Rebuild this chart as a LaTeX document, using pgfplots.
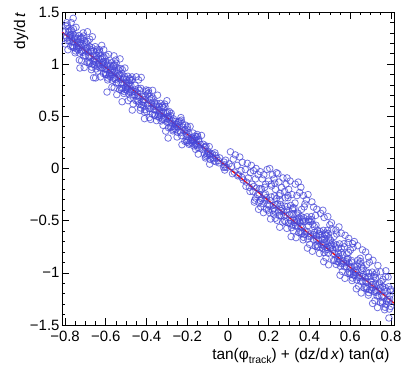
\documentclass[border=0pt]{standalone}
\usepackage{fontspec}
\setmainfont{Liberation Sans}
\usepackage{pgfplots}
\pgfplotsset{compat=1.18}
\definecolor{mk}{RGB}{70,70,215}
\definecolor{fitred}{RGB}{245,0,0}

\begin{document}
\begin{tikzpicture}
\path[use as bounding box] (-62bp,-61bp) rectangle (353bp,325bp);
\begin{axis}[
  name=ax, at={(0,0)}, anchor=south west,
  scale only axis, width=332bp, height=313bp,
  xmin=-0.815, xmax=0.815, ymin=-1.5, ymax=1.5,
  xtick={-0.8,-0.6,-0.4,-0.2,0,0.2,0.4,0.6,0.8},
  xticklabels={−0.8,−0.6,−0.4,−0.2,0,0.2,0.4,0.6,0.8},
  ytick={-1.5,-1,-0.5,0,0.5,1,1.5},
  yticklabels={−1.5,−1,−0.5,0,0.5,1,1.5},
  minor x tick num=3, minor y tick num=4,
  tick align=inside,
  major tick length=7bp, minor tick length=3.5bp,
  tick style={black, line width=0.6bp},
  axis line style={line width=0.8bp},
  ticklabel style={font=\fontsize{15}{17}\selectfont},
  xticklabel style={yshift=-3bp},
  yticklabel style={xshift=1bp},
]
% measured points
\addplot[only marks, mark=o, mark size=3.3bp, mark options={draw=mk, draw opacity=0.75, line width=0.8bp}] coordinates {
(-0.797,1.317) (-0.772,1.171) (-0.784,1.338) (-0.765,1.216) (-0.791,1.398) (-0.778,1.258) (-0.761,1.286) (-0.788,1.225)
(-0.768,1.325) (-0.799,1.194) (-0.775,1.274) (-0.794,1.270) (-0.763,1.177) (-0.782,1.306) (-0.770,1.399) (-0.786,1.138)
(-0.766,1.245) (-0.796,1.364) (-0.779,1.224) (-0.771,1.281) (-0.789,1.374) (-0.762,1.162) (-0.793,1.254) (-0.776,1.317)
(-0.757,1.210) (-0.732,1.274) (-0.744,1.147) (-0.725,1.207) (-0.751,1.109) (-0.738,1.207) (-0.721,1.123) (-0.748,1.272)
(-0.728,1.106) (-0.759,1.339) (-0.735,1.181) (-0.754,1.247) (-0.723,1.238) (-0.742,1.171) (-0.730,1.040) (-0.746,1.353)
(-0.726,1.180) (-0.756,1.159) (-0.739,1.243) (-0.731,1.160) (-0.749,1.127) (-0.722,1.251) (-0.753,1.259) (-0.736,1.140)
(-0.717,1.193) (-0.692,1.017) (-0.704,1.226) (-0.685,1.078) (-0.711,1.300) (-0.698,1.126) (-0.681,1.170) (-0.708,1.079)
(-0.688,1.217) (-0.719,1.034) (-0.695,1.148) (-0.714,1.134) (-0.683,1.029) (-0.702,1.186) (-0.690,1.311) (-0.706,0.968)
(-0.686,1.115) (-0.716,1.254) (-0.699,1.082) (-0.691,1.159) (-0.709,1.270) (-0.682,1.010) (-0.713,1.114) (-0.696,1.203)
(-0.677,1.074) (-0.652,1.168) (-0.664,0.999) (-0.645,1.085) (-0.671,0.947) (-0.658,1.079) (-0.641,0.979) (-0.668,1.158)
(-0.648,0.954) (-0.679,1.239) (-0.655,1.047) (-0.674,1.123) (-0.643,1.126) (-0.662,1.031) (-0.650,0.868) (-0.666,1.263)
(-0.646,1.050) (-0.676,1.009) (-0.659,1.125) (-0.651,1.022) (-0.669,0.971) (-0.642,1.143) (-0.673,1.139) (-0.656,0.994)
(-0.637,1.057) (-0.612,0.911) (-0.624,1.078) (-0.605,0.956) (-0.631,1.138) (-0.618,0.998) (-0.601,1.026) (-0.628,0.965)
(-0.608,1.065) (-0.639,0.934) (-0.615,1.014) (-0.634,1.010) (-0.603,0.917) (-0.622,1.046) (-0.610,1.139) (-0.626,0.878)
(-0.606,0.985) (-0.636,1.104) (-0.619,0.964) (-0.611,1.021) (-0.629,1.114) (-0.602,0.902) (-0.633,0.994) (-0.616,1.057)
(-0.597,0.950) (-0.572,1.014) (-0.584,0.887) (-0.565,0.947) (-0.591,0.849) (-0.578,0.947) (-0.561,0.863) (-0.588,1.012)
(-0.568,0.846) (-0.599,1.079) (-0.575,0.921) (-0.594,0.987) (-0.563,0.978) (-0.582,0.911) (-0.570,0.780) (-0.586,1.093)
(-0.566,0.920) (-0.596,0.899) (-0.579,0.983) (-0.571,0.900) (-0.589,0.867) (-0.562,0.991) (-0.593,0.999) (-0.576,0.880)
(-0.557,0.933) (-0.532,0.757) (-0.544,0.966) (-0.525,0.818) (-0.551,1.040) (-0.538,0.866) (-0.521,0.910) (-0.548,0.819)
(-0.528,0.957) (-0.559,0.774) (-0.535,0.888) (-0.554,0.874) (-0.523,0.769) (-0.542,0.926) (-0.530,1.051) (-0.546,0.708)
(-0.526,0.855) (-0.556,0.994) (-0.539,0.822) (-0.531,0.899) (-0.549,1.010) (-0.522,0.750) (-0.553,0.854) (-0.536,0.943)
(-0.517,0.820) (-0.492,0.884) (-0.504,0.757) (-0.485,0.817) (-0.511,0.719) (-0.498,0.817) (-0.481,0.733) (-0.508,0.882)
(-0.488,0.716) (-0.519,0.949) (-0.495,0.791) (-0.514,0.857) (-0.483,0.848) (-0.502,0.781) (-0.490,0.650) (-0.506,0.963)
(-0.486,0.790) (-0.516,0.769) (-0.499,0.853) (-0.491,0.770) (-0.509,0.737) (-0.482,0.861) (-0.513,0.869) (-0.496,0.750)
(-0.477,0.797) (-0.452,0.651) (-0.445,0.696) (-0.471,0.878) (-0.458,0.738) (-0.441,0.766) (-0.468,0.705) (-0.479,0.674)
(-0.455,0.754) (-0.474,0.750) (-0.443,0.657) (-0.450,0.879) (-0.466,0.618) (-0.446,0.725) (-0.476,0.844) (-0.459,0.704)
(-0.469,0.854) (-0.442,0.642) (-0.473,0.734) (-0.456,0.797)
(-0.437,0.684) (-0.424,0.609) (-0.405,0.695) (-0.431,0.557) (-0.418,0.689) (-0.428,0.768) (-0.408,0.564) (-0.439,0.849)
(-0.415,0.657) (-0.403,0.736) (-0.422,0.641) (-0.410,0.478) (-0.426,0.873) (-0.406,0.660) (-0.436,0.619) (-0.411,0.632)
(-0.429,0.581) (-0.402,0.753) (-0.433,0.749) (-0.416,0.604)
(-0.372,0.521) (-0.384,0.688) (-0.365,0.566) (-0.391,0.748) (-0.361,0.636) (-0.388,0.575) (-0.368,0.675) (-0.399,0.544)
(-0.375,0.624) (-0.394,0.620) (-0.382,0.656) (-0.370,0.749) (-0.386,0.488) (-0.366,0.595) (-0.396,0.714) (-0.379,0.574)
(-0.389,0.724) (-0.362,0.512) (-0.393,0.604) (-0.376,0.667)
(-0.357,0.560) (-0.332,0.624) (-0.344,0.497) (-0.351,0.459) (-0.338,0.557) (-0.321,0.473) (-0.348,0.622) (-0.328,0.456)
(-0.335,0.531) (-0.354,0.597) (-0.323,0.588) (-0.342,0.521) (-0.346,0.703) (-0.326,0.530) (-0.356,0.509) (-0.339,0.593)
(-0.331,0.510) (-0.322,0.601) (-0.353,0.609) (-0.336,0.490)
(-0.317,0.537) (-0.292,0.391) (-0.285,0.436) (-0.311,0.618) (-0.298,0.478) (-0.281,0.506) (-0.288,0.545) (-0.319,0.414)
(-0.295,0.494) (-0.314,0.490) (-0.283,0.397) (-0.302,0.526) (-0.306,0.358) (-0.286,0.465) (-0.316,0.584) (-0.299,0.444)
(-0.291,0.501) (-0.309,0.594) (-0.313,0.474) (-0.296,0.537)
(-0.277,0.436) (-0.264,0.385) (-0.245,0.419) (-0.271,0.361) (-0.258,0.425) (-0.268,0.476) (-0.248,0.347) (-0.279,0.529)
(-0.274,0.461) (-0.243,0.440) (-0.262,0.401) (-0.250,0.302) (-0.246,0.400) (-0.276,0.399) (-0.259,0.451) (-0.269,0.373)
(-0.242,0.449) (-0.256,0.375)
(-0.212,0.261) (-0.224,0.428) (-0.205,0.306) (-0.231,0.488) (-0.201,0.376) (-0.228,0.315) (-0.208,0.415) (-0.215,0.364)
(-0.234,0.360) (-0.203,0.267) (-0.222,0.396) (-0.226,0.228) (-0.206,0.335) (-0.236,0.454) (-0.211,0.371) (-0.229,0.464)
(-0.202,0.252) (-0.233,0.344)
(-0.197,0.306) (-0.172,0.340) (-0.165,0.289) (-0.191,0.231) (-0.178,0.295) (-0.161,0.227) (-0.168,0.217) (-0.199,0.399)
(-0.175,0.275) (-0.163,0.310) (-0.182,0.271) (-0.186,0.403) (-0.166,0.270) (-0.196,0.269) (-0.171,0.258) (-0.189,0.243)
(-0.193,0.339) (-0.176,0.245)
(-0.157,0.271) (-0.144,0.280) (-0.125,0.184) (-0.151,0.326) (-0.121,0.232) (-0.148,0.201) (-0.159,0.184) (-0.135,0.230)
(-0.154,0.236) (-0.142,0.256) (-0.130,0.317) (-0.146,0.138) (-0.156,0.304) (-0.139,0.196) (-0.149,0.308) (-0.153,0.224)
(-0.092,0.210) (-0.104,0.125) (-0.111,0.101) (-0.098,0.165) (-0.108,0.216) (-0.088,0.087) (-0.095,0.145) (-0.114,0.201)
(-0.102,0.141) (-0.090,0.042) (-0.086,0.140) (-0.116,0.139) (-0.091,0.128) (-0.109,0.113) (-0.113,0.209)
(-0.077,0.141) (-0.064,0.150) (-0.045,0.054) (-0.041,0.102) (-0.068,0.071) (-0.055,0.100) (-0.074,0.106) (-0.062,0.126)
(-0.046,0.075) (-0.059,0.066) (-0.073,0.094)
(-0.012,0.080) (-0.018,0.035) (-0.015,0.015) (-0.022,0.011) (-0.006,0.010) (-0.019,0.061) (-0.016,-0.015)
(0.005,0.045) (0.012,0.160) (0.018,0.020) (0.026,0.090) (0.031,-0.035) (0.036,0.130) (0.022,-0.050)
(0.045,0.030) (0.052,-0.060) (0.058,0.110) (0.064,-0.020) (0.070,0.060) (0.075,-0.110) (0.048,-0.070) (0.068,-0.085)
(0.085,-0.010) (0.090,-0.130) (0.095,0.050) (0.100,-0.090) (0.105,-0.180) (0.110,-0.040) (0.115,0.030) (0.118,-0.150)
(0.088,-0.170) (0.108,-0.220)
(0.123,-0.221) (0.136,-0.284) (0.129,-0.322) (0.159,-0.308) (0.152,-0.325) (0.145,-0.250) (0.157,-0.193) (0.150,-0.391)
(0.154,-0.251) (0.141,-0.188) (0.131,-0.304) (0.127,-0.172)
(0.125,-0.020) (0.138,0.000) (0.148,-0.060) (0.158,-0.030) (0.135,-0.100)
(0.188,-0.390) (0.195,-0.345) (0.182,-0.303) (0.172,-0.336) (0.161,-0.367) (0.166,-0.291) (0.178,-0.255) (0.174,-0.423)
(0.164,-0.197) (0.189,-0.280) (0.198,-0.399) (0.184,-0.244)
(0.168,-0.100) (0.176,-0.060) (0.185,-0.150) (0.192,-0.010) (0.199,-0.120) (0.180,-0.180)
(0.203,-0.357) (0.228,-0.263) (0.235,-0.346) (0.209,-0.484) (0.222,-0.352) (0.212,-0.273) (0.232,-0.477) (0.225,-0.384)
(0.206,-0.308) (0.218,-0.400) (0.214,-0.168) (0.204,-0.422) (0.229,-0.409) (0.238,-0.288) (0.224,-0.437)
(0.205,0.000) (0.212,-0.150) (0.226,-0.100) (0.233,-0.200) (0.218,-0.060) (0.238,-0.040) (0.230,-0.140)
(0.243,-0.338) (0.268,-0.514) (0.256,-0.305) (0.275,-0.453) (0.262,-0.405) (0.279,-0.361) (0.252,-0.452) (0.241,-0.497)
(0.265,-0.383) (0.277,-0.502) (0.258,-0.345) (0.254,-0.563) (0.274,-0.416) (0.261,-0.449) (0.251,-0.261) (0.247,-0.417)
(0.245,-0.050) (0.250,-0.130) (0.263,-0.180) (0.270,-0.090) (0.278,-0.220) (0.256,-0.240)
(0.283,-0.447) (0.308,-0.353) (0.296,-0.522) (0.315,-0.436) (0.289,-0.574) (0.302,-0.442) (0.319,-0.542) (0.292,-0.363)
(0.312,-0.567) (0.281,-0.282) (0.286,-0.398) (0.317,-0.395) (0.310,-0.653) (0.294,-0.258) (0.284,-0.512) (0.309,-0.499)
(0.318,-0.378) (0.304,-0.527)
(0.285,-0.150) (0.290,-0.090) (0.298,-0.200) (0.305,-0.120) (0.314,-0.250) (0.295,-0.280)
(0.323,-0.438) (0.348,-0.614) (0.355,-0.553) (0.329,-0.331) (0.342,-0.505) (0.359,-0.461) (0.332,-0.552) (0.321,-0.597)
(0.345,-0.483) (0.326,-0.497) (0.357,-0.602) (0.338,-0.445) (0.334,-0.663) (0.354,-0.516) (0.324,-0.377) (0.341,-0.549)
(0.349,-0.472) (0.358,-0.621) (0.327,-0.517) (0.344,-0.428)
(0.330,-0.150) (0.345,-0.130) (0.352,-0.230) (0.338,-0.260) (0.358,-0.180)
(0.363,-0.557) (0.388,-0.463) (0.376,-0.632) (0.395,-0.546) (0.369,-0.684) (0.399,-0.652) (0.372,-0.473) (0.392,-0.677)
(0.361,-0.392) (0.366,-0.508) (0.397,-0.505) (0.378,-0.600) (0.390,-0.763) (0.374,-0.368) (0.364,-0.622) (0.381,-0.506)
(0.389,-0.609) (0.371,-0.660) (0.398,-0.488) (0.367,-0.492)
(0.370,-0.260) (0.385,-0.300) (0.393,-0.250) (0.378,-0.340)
(0.428,-0.744) (0.416,-0.535) (0.435,-0.683) (0.409,-0.461) (0.422,-0.635) (0.439,-0.591) (0.432,-0.544) (0.401,-0.727)
(0.425,-0.613) (0.406,-0.627) (0.437,-0.732) (0.430,-0.450) (0.414,-0.793) (0.434,-0.646) (0.404,-0.507) (0.421,-0.679)
(0.411,-0.491) (0.438,-0.751) (0.407,-0.647) (0.424,-0.558)
(0.420,-0.370) (0.436,-0.390) (0.412,-0.320)
(0.443,-0.687) (0.468,-0.593) (0.475,-0.676) (0.449,-0.814) (0.462,-0.682) (0.479,-0.782) (0.452,-0.603) (0.472,-0.807)
(0.465,-0.714) (0.446,-0.638) (0.477,-0.635) (0.458,-0.730) (0.470,-0.893) (0.474,-0.711) (0.444,-0.752) (0.461,-0.636)
(0.469,-0.739) (0.478,-0.618) (0.447,-0.622) (0.464,-0.767)
(0.455,-0.430) (0.472,-0.470) (0.466,-0.400)
(0.483,-0.698) (0.496,-0.665) (0.515,-0.813) (0.489,-0.591) (0.502,-0.765) (0.519,-0.721) (0.492,-0.812) (0.481,-0.857)
(0.505,-0.743) (0.486,-0.757) (0.498,-0.705) (0.510,-0.580) (0.494,-0.923) (0.514,-0.776) (0.484,-0.637) (0.509,-0.732)
(0.491,-0.621) (0.518,-0.881) (0.487,-0.777) (0.504,-0.688)
(0.490,-0.460) (0.508,-0.520) (0.500,-0.540)
(0.523,-0.817) (0.548,-0.723) (0.536,-0.892) (0.555,-0.806) (0.542,-0.812) (0.559,-0.912) (0.532,-0.733) (0.552,-0.937)
(0.521,-0.652) (0.545,-0.844) (0.557,-0.765) (0.538,-0.860) (0.550,-1.023) (0.534,-0.628) (0.524,-0.882) (0.541,-0.766)
(0.549,-0.869) (0.531,-0.920) (0.527,-0.752) (0.544,-0.897)
(0.530,-0.590) (0.556,-0.620) (0.545,-0.560)
(0.563,-0.828) (0.588,-1.004) (0.595,-0.943) (0.569,-0.721) (0.582,-0.895) (0.572,-0.942) (0.592,-0.804) (0.561,-0.987)
(0.585,-0.873) (0.566,-0.887) (0.597,-0.992) (0.590,-0.710) (0.574,-1.053) (0.594,-0.906) (0.581,-0.939) (0.589,-0.862)
(0.571,-0.751) (0.598,-1.011) (0.567,-0.907) (0.584,-0.818)
(0.575,-0.640) (0.593,-0.670)
(0.603,-0.947) (0.616,-1.022) (0.635,-0.936) (0.609,-1.074) (0.622,-0.942) (0.639,-1.042) (0.632,-1.067) (0.601,-0.782)
(0.625,-0.974) (0.606,-0.898) (0.618,-0.990) (0.630,-1.153) (0.614,-0.758) (0.634,-0.971) (0.604,-1.012) (0.629,-0.999)
(0.611,-1.050) (0.638,-0.878) (0.607,-0.882) (0.624,-1.027)
(0.620,-0.700) (0.636,-0.740) (0.612,-0.720)
(0.668,-1.144) (0.656,-0.935) (0.675,-1.083) (0.649,-0.861) (0.662,-1.035) (0.679,-0.991) (0.652,-1.082) (0.641,-1.127)
(0.665,-1.013) (0.646,-1.027) (0.677,-1.132) (0.658,-0.975) (0.654,-1.193) (0.674,-1.046) (0.644,-0.907) (0.661,-1.079)
(0.651,-0.891) (0.678,-1.151) (0.647,-1.047) (0.664,-0.958)
(0.660,-0.780) (0.676,-0.800)
(0.683,-1.087) (0.708,-0.993) (0.696,-1.162) (0.689,-1.214) (0.702,-1.082) (0.719,-1.182) (0.692,-1.003) (0.681,-0.922)
(0.705,-1.114) (0.686,-1.038) (0.717,-1.035) (0.710,-1.293) (0.694,-0.898) (0.714,-1.111) (0.684,-1.152) (0.701,-1.036)
(0.709,-1.139) (0.691,-1.190) (0.718,-1.018) (0.704,-1.167)
(0.690,-0.850) (0.712,-0.880)
(0.723,-1.108) (0.748,-1.284) (0.755,-1.223) (0.729,-1.001) (0.742,-1.175) (0.759,-1.131) (0.732,-1.222) (0.752,-1.084)
(0.721,-1.267) (0.726,-1.167) (0.757,-1.272) (0.738,-1.115) (0.750,-0.990) (0.734,-1.333) (0.724,-1.047) (0.741,-1.219)
(0.749,-1.142) (0.758,-1.291) (0.727,-1.187) (0.744,-1.098)
(0.736,-0.930)
(0.763,-1.227) (0.788,-1.133) (0.776,-1.302) (0.795,-1.216) (0.769,-1.354) (0.799,-1.322) (0.772,-1.143) (0.792,-1.347)
(0.761,-1.062) (0.785,-1.254) (0.797,-1.175) (0.778,-1.270) (0.790,-1.433) (0.774,-1.038) (0.794,-1.251) (0.781,-1.176)
(0.789,-1.279) (0.771,-1.330) (0.798,-1.158) (0.767,-1.162)
(0.775,-0.980) (0.786,-1.040)
(-0.727,0.963) (-0.660,0.870) (-0.594,0.733) (-0.520,0.640) (-0.470,0.560) (-0.380,0.470) (-0.294,0.292)
(-0.410,0.540) (-0.760,1.440) (-0.620,1.180) (-0.300,0.650) (-0.560,1.080)
};
% fit line
\addplot[fitred, line width=1.3bp] coordinates {(-0.815,1.31) (0.815,-1.29)};
\end{axis}
\node[rotate=90, anchor=base east, font=\fontsize{15.5}{17}\selectfont]
  at ([xshift=-37bp, yshift=3bp]ax.north west) {dy/d\,\textit{t}};
\node[anchor=base east, font=\fontsize{15.5}{17}\selectfont]
  at ([xshift=-1bp, yshift=-34bp]ax.south east)
  {tan(φ\raisebox{-0.6ex}{\fontsize{10.5}{10.5}\selectfont track}) + (dz/d\,\textit{x}) tan(α)};
\end{tikzpicture}
\end{document}
